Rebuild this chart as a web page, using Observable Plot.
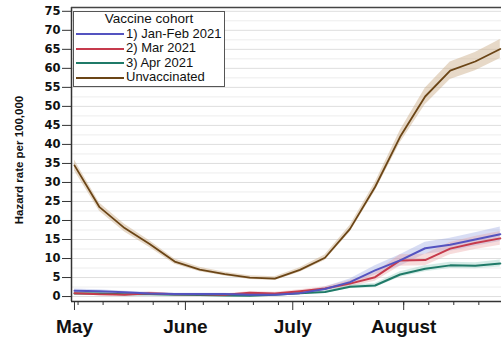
<!DOCTYPE html>
<html><head><meta charset="utf-8">
<script src="https://cdn.jsdelivr.net/npm/d3@7"></script>
<script src="https://cdn.jsdelivr.net/npm/@observablehq/plot@0.6"></script>
<style>
body{margin:0;background:#fff;}
#wrap{position:relative;width:502px;height:343px;font-family:"Liberation Sans",Arial,sans-serif;overflow:hidden;}
#wrap svg{position:absolute;left:0;top:0;}
#legend{position:absolute;left:73px;top:11px;width:152px;height:76px;border:1.5px solid #555;background:#fff;box-sizing:border-box;font-size:13px;line-height:14.5px;color:#111;}
#legend .t{text-align:center;font-size:13.5px;}
#legend .e{display:flex;align-items:center;height:14.5px;}
#legend .sw{width:48px;height:2px;margin-left:2px;margin-right:2px;margin-top:1px;}
#ylab{position:absolute;left:19px;top:160px;width:200px;margin-left:-100px;margin-top:-8px;height:16px;line-height:16px;text-align:center;transform:rotate(-90deg);font-size:11.5px;font-weight:bold;color:#111;white-space:nowrap;}
</style></head>
<body><div id="wrap"></div>
<script>
// ---- data ----
const weekStarts = ["2021-05-01","2021-05-08","2021-05-15","2021-05-22","2021-05-29","2021-06-05","2021-06-12","2021-06-19","2021-06-26","2021-07-03","2021-07-10","2021-07-17","2021-07-24","2021-07-31","2021-08-07","2021-08-14","2021-08-21","2021-08-28"];
const seriesNames = ["1) Jan-Feb 2021","2) Mar 2021","3) Apr 2021","Unvaccinated"];
const seriesColors = ["#5453c0","#c63a4c","#1f7a68","#6b4516"];
const bandColors = ["#8f9ee0","#e99a9a","#86c7b6","#c9ab84"];
const janFeb = [1.5,1.4,1.1,0.8,0.7,0.7,0.7,0.5,0.5,0.9,2.0,3.8,6.9,9.5,12.7,13.6,15.0,16.4];
const janFebCI = [0.5,0.4,0.3,0.3,0.2,0.2,0.2,0.2,0.2,0.3,0.5,0.8,1.2,1.5,1.6,1.7,1.8,1.9];
const mar = [0.9,0.6,0.5,0.9,0.6,0.6,0.5,1.0,0.8,1.4,2.1,3.4,5.1,9.5,9.6,12.6,14.1,15.3];
const marCI = [0.4,0.3,0.3,0.3,0.2,0.2,0.2,0.3,0.3,0.4,0.5,0.8,1.1,1.5,1.5,1.6,1.7,1.8];
const apr = [0.8,0.8,0.6,0.6,0.5,0.4,0.3,0.2,0.5,0.9,1.2,2.6,2.9,5.8,7.3,8.2,8.1,8.7];
const aprCI = [0.3,0.3,0.2,0.2,0.2,0.2,0.2,0.2,0.2,0.3,0.3,0.5,0.5,0.7,0.8,0.8,0.8,0.9];
const unvac = [34.5,23.5,18.0,13.8,9.2,7.1,5.9,5.0,4.7,7.0,10.2,17.8,28.8,42.0,52.6,59.4,61.8,65.1];
const unvacCI = [1.4,1.1,1.0,0.9,0.7,0.6,0.5,0.5,0.5,0.6,0.7,0.9,1.1,1.6,2.2,2.3,2.4,2.5];
const yTicks = [0,5,10,15,20,25,30,35,40,45,50,55,60,65,70,75];
const gridValues = d3.range(0, 76, 2.5);
const monthTicks = ["2021-05-01","2021-06-01","2021-07-01","2021-08-01"];
const monthLabels = ["May","June","July","August"];
const yLabel = "Hazard rate per 100,000";
const legendTitle = "Vaccine cohort";

// ---- build table ----
const values = [janFeb, mar, apr, unvac];
const cis = [janFebCI, marCI, aprCI, unvacCI];
const rows = [];
values.forEach((vals, s) => vals.forEach((v, i) => rows.push({
  date: new Date(weekStarts[i] + "T00:00Z"), series: seriesNames[s], s,
  value: v, lo: Math.max(0, v - cis[s][i]), hi: v + cis[s][i]
})));
const xDomain = [new Date("2021-04-30T04:00Z"), new Date("2021-08-28T08:00Z")];
const yDomain = [-1.3, 76];
const weekTicks = d3.utcSunday.range(xDomain[0], xDomain[1]);
const mTicks = monthTicks.map(d => new Date(d + "T00:00Z"));

const marks = [
  Plot.ruleY(gridValues, {stroke: d => d % 5 === 0 ? "#dedede" : "#ededed", strokeWidth: 1})
];
[3,0,1,2].forEach(s => {
  marks.push(Plot.areaY(rows.filter(r => r.s === s), {x: "date", y1: "lo", y2: "hi", fill: bandColors[s], fillOpacity: s === 3 ? 0.45 : 0.35, curve: "linear"}));
});
[3,2,1,0].forEach(s => {
  marks.push(Plot.lineY(rows.filter(r => r.s === s), {x: "date", y: "value", stroke: seriesColors[s], strokeWidth: s === 3 ? 1.8 : 2}));
});
marks.push(
  Plot.ruleX([xDomain[0]], {stroke: "#333", strokeWidth: 1.5}),
  Plot.ruleY([yDomain[0]], {stroke: "#333", strokeWidth: 1.5}),
  Plot.ruleY([yDomain[1]], {stroke: "#444", strokeWidth: 1.5}),
  Plot.axisY({ticks: yTicks, tickSize: 9, tickPadding: 2, fontSize: 11.5, fontWeight: "bold", fontFamily: "DejaVu Sans", stroke: "#333", fill: "#111", label: null}),
  Plot.axisX({ticks: weekTicks, tickSize: 4, tickFormat: () => "", stroke: "#333", label: null}),
  Plot.axisX({ticks: mTicks, tickSize: 9, tickPadding: 9, tickFormat: (d, i) => monthLabels[i], fontSize: 19, fontWeight: "bold", stroke: "#333", fill: "#111", label: null})
);

const chart = Plot.plot({
  width: 502, height: 343,
  marginLeft: 71, marginRight: 1, marginTop: 7, marginBottom: 42,
  x: {type: "utc", domain: xDomain},
  y: {domain: yDomain},
  style: {fontFamily: "'Liberation Sans', Arial, sans-serif", background: "white", color: "#111"},
  marks
});
const wrap = document.getElementById("wrap");
wrap.appendChild(chart);

// y-axis title
const yl = document.createElement("div");
yl.id = "ylab"; yl.textContent = yLabel;
wrap.appendChild(yl);

// legend
const lg = document.createElement("div");
lg.id = "legend";
const t = document.createElement("div");
t.className = "t"; t.textContent = legendTitle;
lg.appendChild(t);
seriesNames.forEach((n, i) => {
  const e = document.createElement("div"); e.className = "e";
  const sw = document.createElement("div"); sw.className = "sw"; sw.style.background = seriesColors[i];
  const tx = document.createElement("span"); tx.textContent = n;
  e.appendChild(sw); e.appendChild(tx); lg.appendChild(e);
});
wrap.appendChild(lg);
</script>
</body></html>
